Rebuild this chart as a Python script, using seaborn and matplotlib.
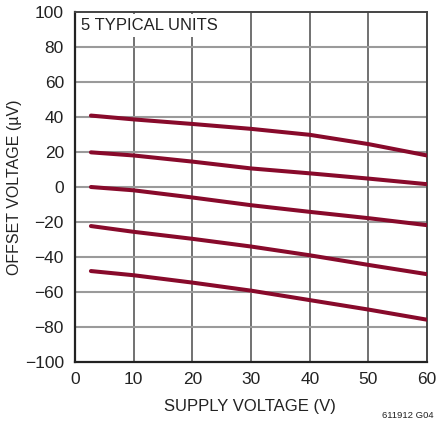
import numpy as np
import pandas as pd
import matplotlib
matplotlib.use("Agg")
import matplotlib.pyplot as plt
import seaborn as sns

# dados
supply_v = [2.7, 10, 20, 30, 40, 50, 60]
unit_1 = [40.8, 38.6, 36.0, 33.2, 29.8, 24.5, 18.0]
unit_2 = [19.8, 18.0, 14.5, 10.6, 7.8, 4.8, 1.6]
unit_3 = [0.0, -1.9, -6.0, -10.4, -14.2, -17.8, -21.8]
unit_4 = [-22.3, -25.6, -29.6, -34.0, -39.0, -44.5, -49.8]
unit_5 = [-48.0, -50.4, -54.6, -59.2, -64.6, -70.0, -75.8]
units = {"1": unit_1, "2": unit_2, "3": unit_3, "4": unit_4, "5": unit_5}
x_ticks = [0, 10, 20, 30, 40, 50, 60]
y_ticks = [-100, -80, -60, -40, -20, 0, 20, 40, 60, 80, 100]

sns.set_style("white")
plt.rcParams["font.family"] = ["Liberation Sans", "DejaVu Sans"]

df = pd.concat(
    [pd.DataFrame({"v": supply_v, "off": vals, "unit": k}) for k, vals in units.items()]
)

fig = plt.figure(figsize=(4.39, 4.25), dpi=100)
ax = fig.add_axes([0.171, 0.148, 0.802, 0.824])

sns.lineplot(data=df, x="v", y="off", units="unit", estimator=None,
             color="#880a2b", lw=2.9, ax=ax, zorder=3)

ax.set_xlim(0, 60)
ax.set_ylim(-100, 100)
ax.set_xticks(x_ticks)
ax.set_yticks(y_ticks)
ax.set_yticklabels([str(t).replace("-", "\u2212") for t in y_ticks])
for t in x_ticks[1:-1]:
    ax.axvline(t, color="#666666", lw=1.3, zorder=1)
for t in y_ticks[1:-1]:
    ax.axhline(t, color="#9a9a9a", lw=1.5, zorder=1)

for s in ["left", "bottom"]:
    ax.spines[s].set_color("#222222")
    ax.spines[s].set_linewidth(1.6)
for s in ["top", "right"]:
    ax.spines[s].set_color("#444444")
    ax.spines[s].set_linewidth(1.4)

ax.tick_params(labelsize=12.5, length=0, colors="#222222")
ax.tick_params(axis="y", pad=8)
ax.tick_params(axis="x", pad=7)
ax.set_xlabel("SUPPLY VOLTAGE (V)", fontsize=12, color="#222222")
ax.set_ylabel("OFFSET VOLTAGE (\u00b5V)", fontsize=11.5, color="#222222")
ax.xaxis.set_label_coords(0.497, -0.105)
ax.yaxis.set_label_coords(-0.152, 0.5)

ax.text(0.018, 0.982, "5 TYPICAL UNITS", transform=ax.transAxes, fontsize=12,
        color="#222222", va="top", ha="left", zorder=5,
        bbox=dict(facecolor="white", edgecolor="none", pad=3))

fig.text(382 / 439, 1 - 415 / 425, "611912 G04", fontsize=6.8, ha="left", va="center",
         color="#222222")

fig.savefig("out.png", dpi=100)
